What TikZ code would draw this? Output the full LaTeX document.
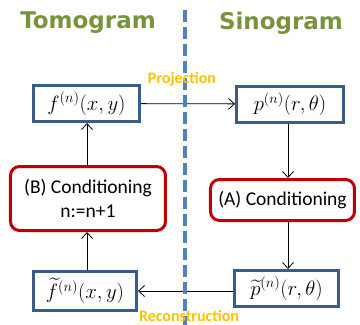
\documentclass[tikz,border=0pt]{standalone}
\usepackage{amsmath,amssymb}
\usepackage{fontspec}
\setmainfont{Carlito}
\newfontfamily\headfont{DejaVu Sans}
\usepackage{xcolor}
\usetikzlibrary{arrows.meta, positioning, calc}
\definecolor{headgreen}{RGB}{119, 147, 60}
\definecolor{framebluegray}{RGB}{56, 93, 138}
\definecolor{condred}{RGB}{192, 0, 0}
\definecolor{splitblue}{RGB}{79, 129, 189}
\definecolor{labelgold}{RGB}{255, 192, 0}

\begin{document}
\begin{tikzpicture}[
    x=1pt, y=-1pt,
    signal/.style={rectangle, draw=framebluegray, line width=3pt, fill=white,
                   minimum width=#1, minimum height=36pt, inner sep=0pt,
                   font=\fontsize{20}{22}\selectfont},
    condition/.style={rectangle, rounded corners=9pt, draw=condred, line width=3pt,
                      fill=white, minimum width=#1, inner sep=0pt, align=center,
                      font=\fontsize{19.5}{24}\selectfont},
    heading/.style={font=\headfont\bfseries\fontsize{23}{26}\selectfont, text=headgreen},
    steplabel/.style={font=\bfseries\fontsize{16}{18}\selectfont, text=labelgold, inner sep=0pt},
    flow/.style={-{Straight Barb[length=6pt, width=11pt]}, line width=0.8pt}
]
    \useasboundingbox (0,0) rectangle (360,325);

    % Headings
    \node[heading] (tomo) at (88, 23) {Tomogram};
    \node[heading] (sino) at (281, 23) {Sinogram};

    % Boxes
    \node[signal=106pt] (f) at (86.5, 103.5) {$f^{(n)}(x,y)$};
    \node[signal=107pt] (p) at (290, 104) {$p^{(n)}(r,\theta)$};
    \node[condition=155pt, minimum height=64pt] (condB) at (88, 198.5)
        {(B) Conditioning\\n:=n+1};
    \node[condition=144pt, minimum height=41pt] (condA) at (282.5, 200)
        {(A) Conditioning};
    \node[signal=103pt, minimum height=39pt] (ft) at (85, 291) {$\widetilde{f}^{(n)}(x,y)$};
    \node[signal=104pt] (pt) at (286.5, 288.5) {$\widetilde{p}^{(n)}(r,\theta)$};

    % Arrows
    \draw[flow] (f) -- (p);
    \draw[flow] (p.south) ++(-2,0) coordinate (pout) -- (pout |- condA.north);
    \draw[flow] (condA.south -| pt.north) ++(1.5,0) coordinate (aout) -- (aout |- pt.north);
    \draw[flow] (pt.west |- ft.east) -- (ft.east);
    \draw[flow] (ft.north) ++(2,0) coordinate (fout) -- (fout |- condB.south);
    \draw[flow] (condB.north) ++(-1,0) coordinate (bout) -- (bout |- f.south);

    % Divider
    \draw[splitblue, line width=4pt, dash pattern=on 12pt off 5pt] (185, 10) -- (185, 325);

    % Step labels
    \node[steplabel] (proj) at (182, 79) {Projection};
    \node[steplabel] (recon) at (189, 316) {Reconstruction};
\end{tikzpicture}
\end{document}
